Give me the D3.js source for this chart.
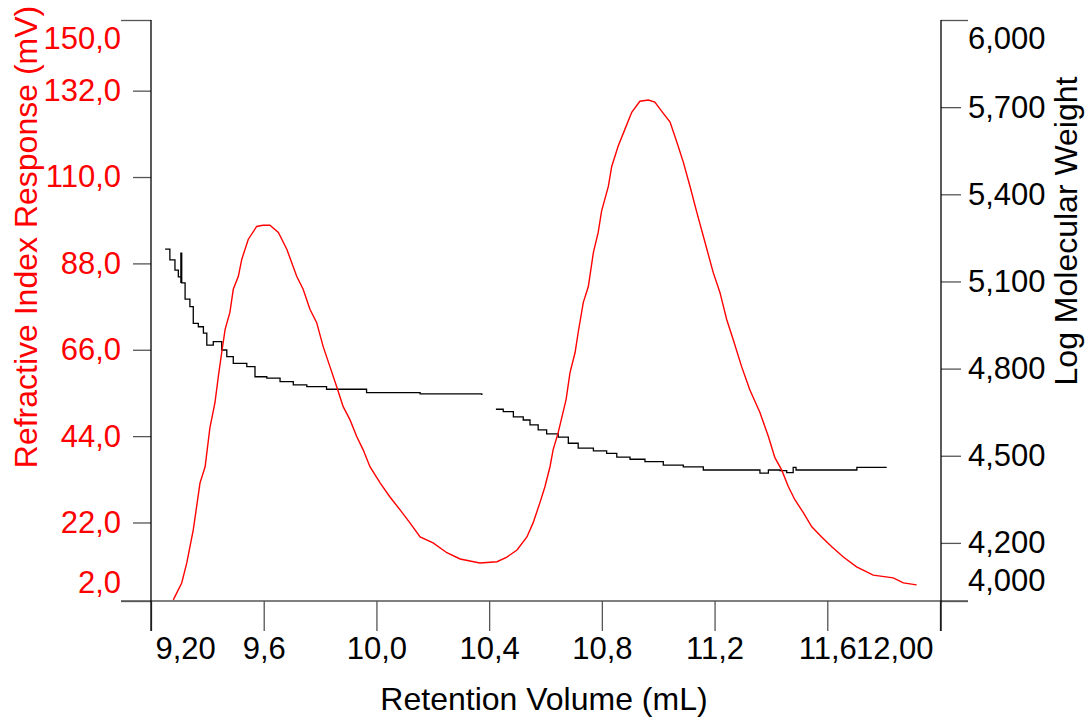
<!DOCTYPE html>
<html>
<head>
<meta charset="utf-8">
<script src="https://cdn.jsdelivr.net/npm/d3@7"></script>
<style>
  html, body { margin: 0; padding: 0; background: #fff; }
  svg { display: block; font-family: "Liberation Sans", Arial, sans-serif; }
</style>
</head>
<body>
<svg id="chart" width="1088" height="721"></svg>
<script>
// ---- Data ----
const xTicks = [9.2, 9.6, 10.0, 10.4, 10.8, 11.2, 11.6, 12.0];
const xTickLabels = ["9,20", "9,6", "10,0", "10,4", "10,8", "11,2", "11,6", "12,00"];
const riTicks = [2, 22, 44, 66, 88, 110, 132, 150];
const riTickLabels = ["2,0", "22,0", "44,0", "66,0", "88,0", "110,0", "132,0", "150,0"];
const mwTicks = [4.0, 4.2, 4.5, 4.8, 5.1, 5.4, 5.7, 6.0];
const mwTickLabels = ["4,000", "4,200", "4,500", "4,800", "5,100", "5,400", "5,700", "6,000"];

// Refractive index response (mV) vs retention volume (mL)
const riVolume = [9.279, 9.309, 9.327, 9.350, 9.374, 9.392, 9.409, 9.427, 9.439, 9.451,
  9.463, 9.480, 9.492, 9.510, 9.522, 9.545, 9.575, 9.597, 9.622, 9.652,
  9.682, 9.717, 9.740, 9.764, 9.788, 9.811, 9.835, 9.859, 9.882, 9.906,
  9.930, 9.953, 9.977, 10.013, 10.048, 10.084, 10.119, 10.155, 10.201, 10.250,
  10.297, 10.367, 10.428, 10.463, 10.499, 10.534, 10.556, 10.580, 10.598, 10.616,
  10.627, 10.645, 10.662, 10.673, 10.687, 10.705, 10.716, 10.734, 10.752, 10.770,
  10.787, 10.799, 10.823, 10.835, 10.858, 10.882, 10.906, 10.935, 10.965, 10.988,
  11.012, 11.042, 11.066, 11.089, 11.113, 11.137, 11.166, 11.195, 11.219, 11.243,
  11.266, 11.296, 11.325, 11.361, 11.391, 11.414, 11.438, 11.462, 11.485, 11.515,
  11.545, 11.580, 11.616, 11.657, 11.704, 11.763, 11.834, 11.870, 11.917];
const riResponse = [2.3, 6.6, 11.7, 20.1, 32.1, 36.2, 46.1, 52.5, 59.2, 65.3,
  71.2, 75.5, 81.4, 84.7, 89.0, 94.1, 97.4, 97.7, 97.7, 95.9,
  91.6, 84.7, 81.4, 76.3, 72.9, 66.8, 61.7, 56.6, 51.5, 48.2,
  43.9, 40.5, 36.2, 32.1, 28.5, 25.2, 21.9, 18.3, 16.8, 14.3,
  12.7, 11.7, 12.0, 13.2, 15.0, 18.3, 21.9, 27.0, 31.1, 36.2,
  40.5, 44.9, 50.0, 53.3, 60.2, 65.3, 70.4, 78.0, 82.1, 90.8,
  95.9, 101.3, 107.6, 112.7, 117.9, 122.2, 126.5, 129.3, 129.6, 129.1,
  126.8, 124.0, 118.9, 113.8, 107.6, 101.0, 93.4, 85.7, 80.6, 73.7,
  68.6, 61.7, 55.8, 50.0, 43.9, 38.5, 35.4, 31.1, 27.8, 24.5,
  20.9, 18.3, 15.8, 13.2, 10.7, 8.6, 7.9, 6.6, 6.1];

// Log molecular weight, first segment
const mwVolume1 = [9.250, 9.267, 9.285, 9.297, 9.306, 9.306, 9.309, 9.321, 9.338, 9.350,
  9.368, 9.386, 9.398, 9.421, 9.451, 9.469, 9.492, 9.540, 9.569, 9.611,
  9.658, 9.705, 9.753, 9.823, 9.965, 10.155, 10.374];
const mwLog1 = [5.211, 5.174, 5.139, 5.116, 5.095, 5.197, 5.095, 5.039, 5.013, 4.956,
  4.944, 4.922, 4.881, 4.893, 4.864, 4.841, 4.818, 4.807, 4.772, 4.767,
  4.755, 4.744, 4.738, 4.729, 4.717, 4.713, 4.709];
// Log molecular weight, second segment
const mwVolume2 = [10.424, 10.450, 10.486, 10.521, 10.545, 10.574, 10.604, 10.645, 10.681, 10.716,
  10.770, 10.817, 10.853, 10.900, 10.953, 11.018, 11.089, 11.160, 11.349, 11.361,
  11.385, 11.391, 11.432, 11.456, 11.479, 11.489, 11.704, 11.705, 11.811];
const mwLog2 = [4.660, 4.652, 4.634, 4.623, 4.606, 4.589, 4.575, 4.564, 4.543, 4.526,
  4.517, 4.508, 4.495, 4.488, 4.480, 4.468, 4.462, 4.451, 4.451, 4.440,
  4.440, 4.451, 4.449, 4.442, 4.460, 4.451, 4.451, 4.460, 4.460];

// ---- Layout ----
const svg = d3.select("#chart");
const FONT = 31;
const TITLE_FONT = 32;
const plotL = 151, plotR = 940, plotT = 20, plotB = 601;

const x = d3.scaleLinear().domain([9.2, 12.0]).range([plotL, plotR]);
const yL = d3.scaleLinear().domain([2, 150]).range([plotB, plotT]);
const yR = d3.scaleLinear().domain([4.0, 6.0]).range([plotB, plotT]);

const tickColor = "#555";
const fontFam = "Liberation Sans, Arial, sans-serif";

// Left axis (RI)
const gL = svg.append("g").attr("transform", `translate(${plotL},0)`)
  .call(d3.axisLeft(yL).tickValues(riTicks)
    .tickFormat((d, i) => riTickLabels[i]).tickSize(18).tickPadding(12));
gL.select(".domain").remove();
gL.selectAll(".tick line").attr("stroke", tickColor).attr("stroke-width", 1.3)
  .attr("x2", d => (d === 2 || d === 150) ? -30 : -18);
gL.selectAll(".tick text").attr("fill", "#ff0000").attr("font-size", FONT)
  .attr("font-family", fontFam)
  .attr("y", d => d === 150 ? 19 : (d === 2 ? -18 : 0));

// Right axis (log MW)
const gR = svg.append("g").attr("transform", `translate(${plotR + 1},0)`)
  .call(d3.axisRight(yR).tickValues(mwTicks)
    .tickFormat((d, i) => mwTickLabels[i]).tickSize(20).tickPadding(7));
gR.select(".domain").remove();
gR.selectAll(".tick line").attr("stroke", tickColor).attr("stroke-width", 1.3)
  .attr("x2", d => (d === 4.0 || d === 6.0) ? 27 : 20);
gR.selectAll(".tick text").attr("fill", "#000").attr("font-size", FONT)
  .attr("font-family", fontFam)
  .attr("y", d => d === 6.0 ? 19 : (d === 4.0 ? -20 : 0));

// Bottom axis
const gB = svg.append("g").attr("transform", `translate(0,${plotB})`)
  .call(d3.axisBottom(x).tickValues(xTicks)
    .tickFormat((d, i) => xTickLabels[i]).tickSize(30).tickPadding(6));
gB.select(".domain").remove();
gB.selectAll(".tick line").attr("stroke", tickColor).attr("stroke-width", 1.3);
gB.selectAll(".tick text").attr("fill", "#000").attr("font-size", FONT)
  .attr("font-family", fontFam)
  .attr("text-anchor", (d, i) => i === 0 ? "start" : (i === xTicks.length - 1 ? "end" : "middle"))
  .attr("x", (d, i) => i === 0 ? 4 : (i === xTicks.length - 1 ? -7 : 0));

// Axis frame lines
svg.append("line").attr("x1", plotL - 30).attr("x2", plotR + 28)
  .attr("y1", plotB).attr("y2", plotB).attr("stroke", tickColor).attr("stroke-width", 1.3);
svg.append("line").attr("x1", plotL).attr("x2", plotL)
  .attr("y1", plotT).attr("y2", plotB + 30).attr("stroke", "#000").attr("stroke-width", 1.3);
svg.append("line").attr("x1", plotR + 1).attr("x2", plotR + 1)
  .attr("y1", plotT).attr("y2", plotB + 30).attr("stroke", "#000").attr("stroke-width", 1.3);

// ---- Series ----
const riData = riVolume.map((v, i) => [v, riResponse[i]]);
const mw1 = mwVolume1.map((v, i) => [v, mwLog1[i]]);
const mw2 = mwVolume2.map((v, i) => [v, mwLog2[i]]);

const lineL = d3.line().x(d => x(d[0])).y(d => yL(d[1]));
const lineR = d3.line().x(d => x(d[0])).y(d => yR(d[1])).curve(d3.curveStepAfter);

svg.append("path").datum(mw1).attr("d", lineR)
  .attr("fill", "none").attr("stroke", "#000").attr("stroke-width", 1.3);
svg.append("path").datum(mw2).attr("d", lineR)
  .attr("fill", "none").attr("stroke", "#000").attr("stroke-width", 1.3);
svg.append("path").datum(riData).attr("d", lineL)
  .attr("fill", "none").attr("stroke", "#ff0000").attr("stroke-width", 1.4);

// ---- Titles ----
svg.append("text").attr("x", 544).attr("y", 710).attr("text-anchor", "middle")
  .attr("font-size", TITLE_FONT).attr("font-family", fontFam).attr("fill", "#000")
  .text("Retention Volume (mL)");
svg.append("text").attr("transform", "translate(37,237) rotate(-90)")
  .attr("text-anchor", "middle").attr("font-size", TITLE_FONT).attr("font-family", fontFam)
  .attr("fill", "#ff0000").text("Refractive Index Response (mV)");
svg.append("text").attr("transform", "translate(1077,231) rotate(-90)")
  .attr("text-anchor", "middle").attr("font-size", TITLE_FONT).attr("font-family", fontFam)
  .attr("fill", "#000").text("Log Molecular Weight");
</script>
</body>
</html>
